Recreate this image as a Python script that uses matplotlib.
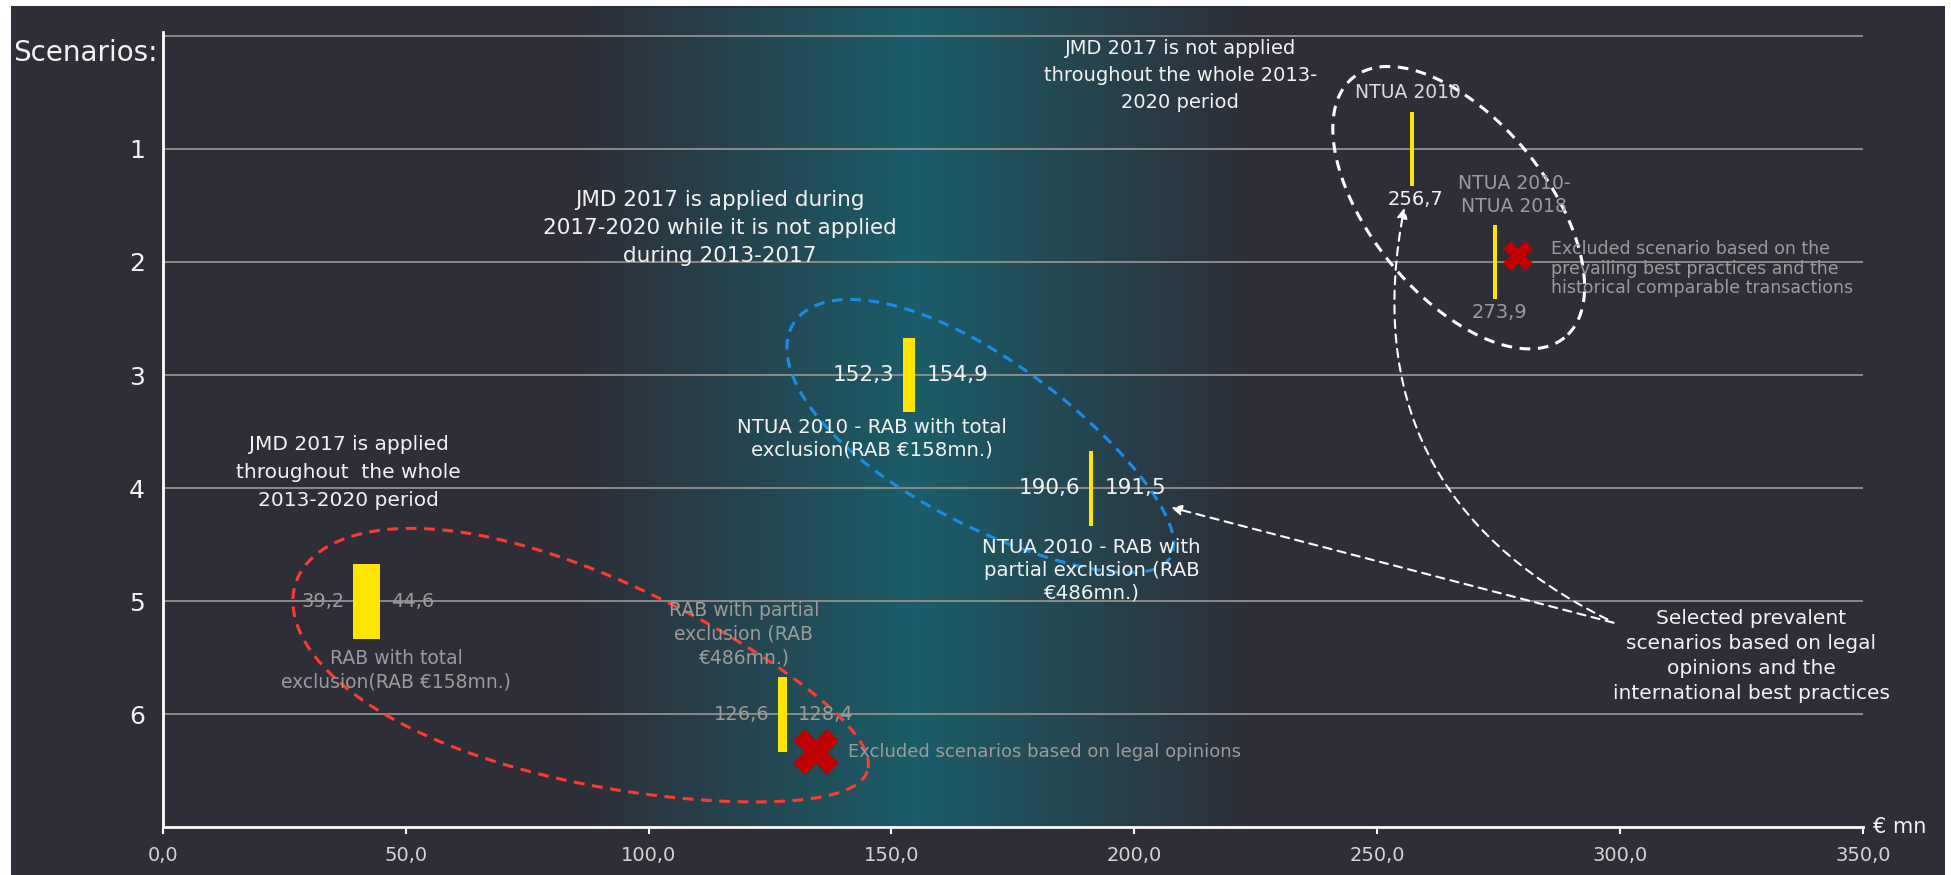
import numpy as np
import matplotlib
matplotlib.use("Agg")
import matplotlib.pyplot as plt
from matplotlib.patches import Rectangle, FancyArrowPatch
from matplotlib.colors import LinearSegmentedColormap

# scenario ranges in EUR mn
scenarios = [1, 2, 3, 4, 5, 6]
low = [256.7, 273.9, 152.3, 190.6, 39.2, 126.6]
high = [256.7, 273.9, 154.9, 191.5, 44.6, 128.4]
selected = [True, False, True, True, False, False]
names = ["NTUA 2010",
         "NTUA 2010-\nNTUA 2018",
         "NTUA 2010 - RAB with total\nexclusion(RAB €158mn.)",
         "NTUA 2010 - RAB with\npartial exclusion (RAB\n€486mn.)",
         "RAB with total\nexclusion(RAB €158mn.)",
         "RAB with partial\nexclusion (RAB\n€486mn.)"]
xticks = [0, 50, 100, 150, 200, 250, 300, 350]

# excluded scenarios (red crosses)
excl_x = [279.0, 134.5]
excl_y = [1.95, 6.33]
excl_text = ["Excluded scenario based on the\nprevailing best practices and the\nhistorical comparable transactions",
             "Excluded scenarios based on legal opinions"]

BG = "#2e2e38"
TEAL = "#1b5d69"
YELLOW = "#ffe600"
GREY = "#9b9b9b"
WHITE = "#f2f2f2"
FONT = ["DejaVu Sans"]


def fmt(v):
    return ("%.1f" % v).replace(".", ",")


fig = plt.figure(figsize=(19.51, 8.75), dpi=100, facecolor="white")
fig.add_artist(Rectangle((11 / 1951, 0), 1934 / 1951, 869 / 875, transform=fig.transFigure,
                         facecolor=BG, edgecolor="none", zorder=-10))
ax = fig.add_axes([0.0835, 0.0543, 0.8713, 0.9087])
ax.set_facecolor("none")

# teal glow behind the middle of the chart
cmap = LinearSegmentedColormap.from_list("glow", [BG, TEAL, BG])
ax.imshow(np.linspace(0, 1, 400).reshape(1, -1), extent=[85, 225, 7, -0.24], aspect="auto",
          cmap=cmap, zorder=0, clip_on=False, interpolation="bilinear")

ax.hlines(range(7), 0, 350, color="#8a8a8a", lw=1.4, zorder=1)

widths = [max(h - l, 0.8) for l, h in zip(low, high)]
ax.barh(scenarios, widths, left=low, height=0.66, color=YELLOW, zorder=3)

# value labels
for i, s in enumerate(scenarios):
    col = WHITE if selected[i] else GREY
    size = 15.5 if i in (2, 3) else 14
    if low[i] == high[i]:
        ax.text(low[i] + 1.2, s + 0.45, fmt(low[i]), color=col, fontsize=size, family=FONT,
                ha="center", va="center", zorder=4)
    else:
        ax.text(low[i] - 1.8, s, fmt(low[i]), color=col, fontsize=size, family=FONT,
                ha="right", va="center", zorder=4)
        ax.text(high[i] + 2.4, s, fmt(high[i]), color=col, fontsize=size, family=FONT,
                ha="left", va="center", zorder=4)

# scenario names
name_pos = [(256.4, 0.50), (278.2, 1.41), (146.0, 3.56), (191.2, 4.73), (48.0, 5.61), (119.6, 5.29)]
for i, (nx, ny) in enumerate(name_pos):
    if i in (2, 3):
        ax.text(nx, ny, names[i], color=WHITE, fontsize=14.2, family=FONT, ha="center",
                va="center", linespacing=1.25, zorder=4)
    else:
        col = "#dadada" if selected[i] else GREY
        ax.text(nx, ny, names[i], color=col, fontsize=13.5, family=FONT, ha="center",
                va="center", linespacing=1.3, zorder=4)

ax.plot(excl_x[0], excl_y[0], marker="X", ms=21, color="#c00000", mew=0, zorder=5)
ax.plot(excl_x[1], excl_y[1], marker="X", ms=33, color="#c00000", mew=0, zorder=5)
ax.text(285.9, 2.06, excl_text[0], color=GREY, fontsize=12.5, family=FONT, ha="left",
        va="center", linespacing=1.1, zorder=4)
ax.text(141.1, 6.33, excl_text[1], color=GREY, fontsize=13, family=FONT, ha="left",
        va="center", zorder=4)

# group headings
ax.text(38.2, 3.86, "JMD 2017 is applied\nthroughout  the whole\n2013-2020 period", color=WHITE,
        fontsize=14.5, family=FONT, ha="center", va="center", linespacing=1.6)
ax.text(114.7, 1.70, "JMD 2017 is applied during\n2017-2020 while it is not applied\nduring 2013-2017",
        color=WHITE, fontsize=15.5, family=FONT, ha="center", va="center", linespacing=1.5)
ax.text(209.5, 0.35, "JMD 2017 is not applied\nthroughout the whole 2013-\n2020 period", color=WHITE,
        fontsize=14, family=FONT, ha="center", va="center", linespacing=1.55)
ax.text(327.0, 5.48, "Selected prevalent\nscenarios based on legal\nopinions and the\ninternational best practices",
        color=WHITE, fontsize=14.5, family=FONT, ha="center", va="center", linespacing=1.4)

# dashed egg outlines around scenario groups
SX = 0.8713 * 1951 / 350
SY = 0.9087 * 875 / 7


def egg(cx, cy, a, b, ang, skew, color):
    t = np.linspace(0, 2 * np.pi, 400)
    u = a * np.cos(t)
    v = b * np.sin(t) * (1 - skew * np.cos(t))
    r = np.radians(ang)
    px = u * np.cos(r) - v * np.sin(r)
    py = u * np.sin(r) + v * np.cos(r)
    ax.plot(cx + px / SX, cy + py / SY, color=color, lw=2.2, ls=(0, (3.5, 2.5)), zorder=2,
            clip_on=False)


egg(86.2, 5.67, 301, 105, 18.3, 0.24, "#ff3b30")
egg(168.6, 3.58, 222, 83, 32, 0.15, "#1a8ce5")
egg(266.8, 1.52, 168, 88, 51, 0.0, "white")

arrow_kw = dict(arrowstyle="-|>,head_length=6,head_width=3", color="white", lw=1.5,
                ls=(0, (4, 3)), shrinkA=0, shrinkB=0, zorder=6)
ax.add_patch(FancyArrowPatch((298.7, 5.19), (207.6, 4.17), **arrow_kw))
ax.add_patch(FancyArrowPatch((297.4, 5.16), (255.6, 1.52), connectionstyle="arc3,rad=-0.38",
                             **arrow_kw))

ax.set_xlim(0, 350)
ax.set_ylim(7, -0.03)
ax.set_xticks(xticks)
ax.set_xticklabels([fmt(t) for t in xticks])
ax.set_yticks(scenarios)
ax.set_yticklabels([str(s) for s in scenarios])
ax.tick_params(axis="x", direction="out", length=5, width=1.5, color="white",
               labelcolor="#d4d4d4", labelsize=14, pad=8)
ax.tick_params(axis="y", length=0, labelcolor=WHITE, labelsize=18, pad=13)
for lab in ax.get_xticklabels() + ax.get_yticklabels():
    lab.set_family(FONT)
for side in ("top", "right"):
    ax.spines[side].set_visible(False)
for side in ("left", "bottom"):
    ax.spines[side].set_color("white")
    ax.spines[side].set_linewidth(2)
    ax.spines[side].set_zorder(7)

ax.text(-1.0, 0.15, "Scenarios:", color=WHITE, fontsize=20, family=FONT, ha="right", va="center")
ax.text(352, 7, "€ mn", color=WHITE, fontsize=15, family=FONT, ha="left", va="center",
        clip_on=False)

fig.savefig("out.png", dpi=100, facecolor="white")
